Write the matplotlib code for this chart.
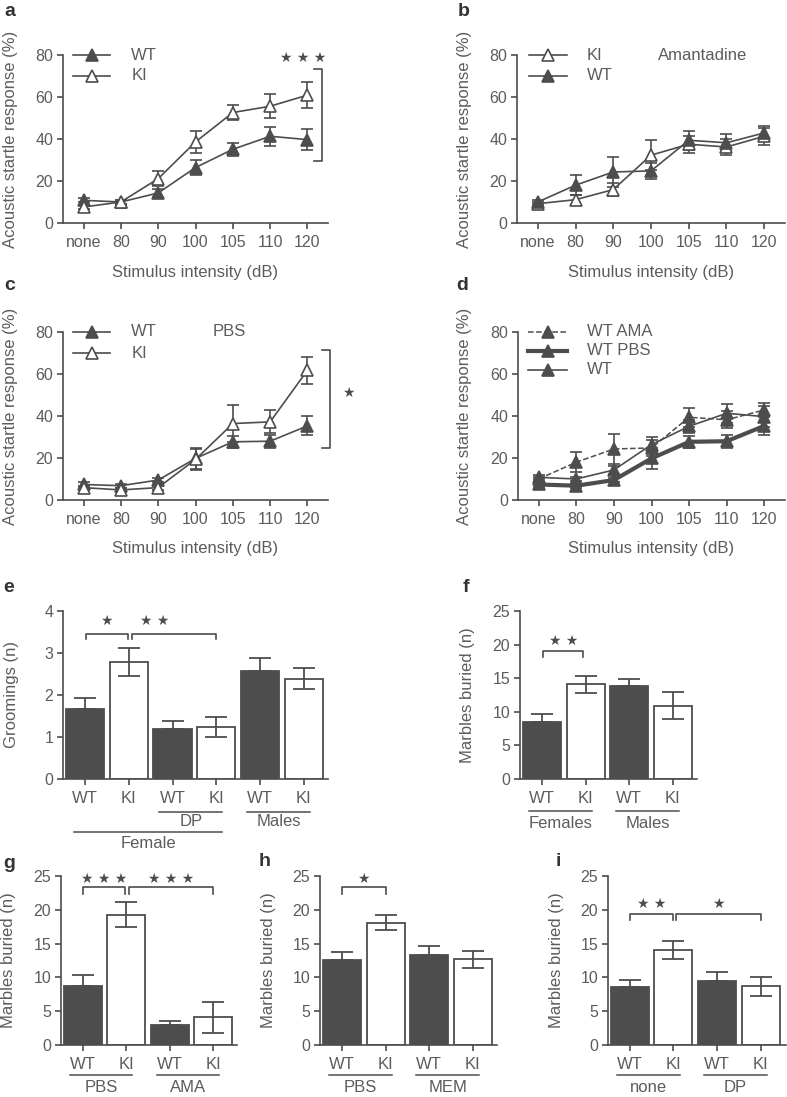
import numpy as np
import matplotlib

matplotlib.use("Agg")
import matplotlib.pyplot as plt

plt.rcParams["font.family"] = ["Liberation Sans", "DejaVu Sans"]

W, H = 787, 1097
INK = "#4d4d4d"
TXT = "#5c5c5c"

# ---- startle data (a-d) ----
intensity = ["none", "80", "90", "100", "105", "110", "120"]

a_wt = [10.8, 10.0, 14.3, 26.4, 35.1, 41.3, 39.7]
a_wt_err = [1.0, 1.0, 2.0, 3.5, 3.0, 4.5, 5.0]
a_ki = [7.6, 10.0, 21.1, 38.6, 52.6, 55.6, 60.9]
a_ki_err = [1.0, 1.0, 3.5, 5.3, 3.5, 5.6, 6.2]

b_ki = [9.2, 11.1, 15.9, 32.3, 37.5, 36.2, 41.3]
b_ki_err = [1.0, 2.4, 3.0, 7.0, 4.0, 4.0, 4.0]
b_wt = [10.0, 18.0, 24.3, 24.8, 39.4, 38.2, 42.9]
b_wt_err = [1.0, 4.7, 7.0, 4.0, 4.5, 4.0, 3.5]

c_wt = [7.4, 6.8, 9.5, 19.8, 27.7, 28.0, 35.3]
c_wt_err = [1.0, 1.0, 1.0, 5.0, 3.0, 3.0, 4.5]
c_ki = [5.9, 4.8, 5.9, 19.3, 36.4, 37.2, 61.8]
c_ki_err = [1.0, 1.0, 1.0, 5.0, 9.0, 5.5, 6.5]

# panel d re-plots the WT groups of a, b and c
d_series = ["WT AMA", "WT PBS", "WT"]

# ---- behaviour data (e-i) ----
genotype = ["WT", "KI", "WT", "KI", "WT", "KI"]

e_groom = [1.66, 2.79, 1.18, 1.24, 2.57, 2.39]
e_groom_err = [0.28, 0.34, 0.20, 0.23, 0.30, 0.25]

f_marbles = [8.5, 14.1, 13.8, 10.9]
f_marbles_err = [1.1, 1.27, 1.05, 1.98]

g_marbles = [8.7, 19.3, 2.9, 4.1]
g_marbles_err = [1.6, 1.8, 0.7, 2.3]

h_marbles = [12.55, 18.1, 13.3, 12.65]
h_marbles_err = [1.25, 1.15, 1.4, 1.3]

i_marbles = [8.6, 14.05, 9.47, 8.7]
i_marbles_err = [1.0, 1.35, 1.3, 1.4]


def add_axes_px(fig, left, top, right, bottom):
    return fig.add_axes([left / W, 1 - bottom / H, (right - left) / W, (bottom - top) / H])


def style(ax, labelsize=11.5):
    for s in ("top", "right"):
        ax.spines[s].set_visible(False)
    for s in ("left", "bottom"):
        ax.spines[s].set_color(INK)
        ax.spines[s].set_linewidth(1.2)
    ax.tick_params(direction="out", length=4.5, width=1.2, color=INK,
                   labelcolor=TXT, labelsize=labelsize, pad=2.5)
    ax.tick_params(axis="x", pad=4)


def set_ylabel_px(ax, text, off_px, width_px):
    ax.set_ylabel(text, fontsize=12, color=TXT)
    ax.yaxis.set_label_coords(-off_px / width_px, 0.5)
    ax.yaxis.label.set_va("center")


def panel_label(fig, x, y, s):
    fig.text(x / W, 1 - y / H, s, fontsize=14, fontweight="bold", color="#333333",
             ha="center", va="center")


def startle_line(ax, y, err, filled, lw=1.2, ls="-"):
    x = np.arange(len(y))
    ax.errorbar(x, y, yerr=err, fmt="^", ls=ls, lw=lw, color=INK, ms=8,
                mfc=INK if filled else "white", mec=INK, mew=1.2,
                elinewidth=1.2, capsize=4.5, capthick=1.2, clip_on=False, zorder=3)


def legend_row(ax, x0, x1, y, label, filled, lw=1.2, ls="-", tx=1.28):
    ax.plot([x0, (x0 + x1) / 2, x1], [y, y, y], ls=ls, lw=lw, color=INK,
            marker="^", markevery=[1], ms=8, mfc=INK if filled else "white",
            mec=INK, mew=1.2, clip_on=False)
    ax.text(tx, y, label, fontsize=12, color=TXT, va="center", ha="left")


def startle_axes(ax, width_px):
    style(ax)
    ax.set_xlim(-0.55, 6.55)
    ax.set_ylim(0, 80)
    ax.set_xticks(np.arange(len(intensity)), intensity)
    ax.set_yticks([0, 20, 40, 60, 80])
    ax.set_xlabel("Stimulus intensity (dB)", fontsize=12, color=TXT)
    ax.xaxis.set_label_coords(0.5, -49 / 168)
    ax.xaxis.label.set_va("center")
    set_ylabel_px(ax, "Acoustic startle response (%)", 53, width_px)


def stars(ax, x, y, n, size=10):
    ax.text(x, y, " ".join(["\u2605"] * n), fontsize=size, color=INK,
            ha="center", va="center", family="DejaVu Sans", clip_on=False)


def bracket(ax, x0, x1, y, drop):
    ax.plot([x0, x0, x1, x1], [y - drop, y, y, y - drop], color=INK, lw=1.2,
            clip_on=False)


def bar_axes(ax, vals, errs, ymax, yticks, ylabel, width_px, xmax=3.55):
    style(ax, labelsize=11.5)
    x = np.arange(len(vals))
    labels = genotype[:len(vals)]
    colors = [INK if g == "WT" else "white" for g in labels]
    ax.bar(x, vals, width=0.87, color=colors, edgecolor=INK, linewidth=1.3, zorder=2)
    lower = [0 if g == "WT" else e for g, e in zip(labels, errs)]
    ax.errorbar(x, vals, yerr=[lower, errs], fmt="none", ecolor=INK, elinewidth=1.3,
                capsize=8, capthick=1.3, zorder=3)
    ax.set_xlim(-0.5, xmax)
    ax.set_ylim(0, ymax)
    ax.set_yticks(yticks)
    ax.set_xticks(x, labels)
    ax.tick_params(axis="x", labelsize=12)
    set_ylabel_px(ax, ylabel, 52, width_px)


def group(ax, i0, i1, text, line_px, text_px, h_px):
    x0, x1 = i0 - 0.3, i1 + 0.14
    tr = ax.get_xaxis_transform()
    ax.plot([x0, x1], [-line_px / h_px] * 2, color=INK, lw=1.1, transform=tr, clip_on=False)
    ax.text((x0 + x1) / 2, -text_px / h_px, text, transform=tr, fontsize=12, color=TXT,
            ha="center", va="center")


def main():
    fig = plt.figure(figsize=(W / 100, H / 100), dpi=100)

    # a
    ax = add_axes_px(fig, 63, 55, 328, 223)
    startle_axes(ax, 265)
    startle_line(ax, a_wt, a_wt_err, True)
    startle_line(ax, a_ki, a_ki_err, False)
    legend_row(ax, -0.28, 0.71, 80, "WT", True)
    legend_row(ax, -0.28, 0.71, 70, "KI", False)
    ax.plot([6.18, 6.39, 6.39, 6.18], [73.2, 73.2, 29.4, 29.4], color=INK, lw=1.2, clip_on=False)
    stars(ax, 5.88, 78.4, 3)
    panel_label(fig, 10, 12, "a")

    # b
    ax = add_axes_px(fig, 517, 55, 785, 223)
    startle_axes(ax, 268)
    startle_line(ax, b_ki, b_ki_err, False)
    startle_line(ax, b_wt, b_wt_err, True)
    legend_row(ax, -0.23, 0.77, 80, "KI", False, tx=1.3)
    legend_row(ax, -0.23, 0.77, 70, "WT", True, tx=1.3)
    ax.text(3.18, 80, "Amantadine", fontsize=12, color=TXT, va="center", ha="left")
    panel_label(fig, 464, 12, "b")

    # c
    ax = add_axes_px(fig, 63, 332, 328, 500)
    startle_axes(ax, 265)
    startle_line(ax, c_wt, c_wt_err, True)
    startle_line(ax, c_ki, c_ki_err, False)
    legend_row(ax, -0.28, 0.71, 80, "WT", True)
    legend_row(ax, -0.28, 0.71, 70, "KI", False)
    ax.text(3.47, 80, "PBS", fontsize=12, color=TXT, va="center", ha="left")
    ax.plot([6.39, 6.60, 6.60, 6.39], [71.3, 71.3, 24.9, 24.9], color=INK, lw=1.2, clip_on=False)
    stars(ax, 7.09, 51.2, 1)
    panel_label(fig, 10, 285, "c")

    # d
    ax = add_axes_px(fig, 518, 332, 785, 500)
    startle_axes(ax, 267)
    startle_line(ax, b_wt, b_wt_err, True, lw=1.1, ls="--")
    startle_line(ax, c_wt, c_wt_err, True, lw=3.0)
    startle_line(ax, a_wt, a_wt_err, True, lw=1.2)
    legend_row(ax, -0.28, 0.75, 80, d_series[0], True, lw=1.1, ls="--")
    legend_row(ax, -0.28, 0.75, 71, d_series[1], True, lw=3.0)
    legend_row(ax, -0.28, 0.75, 62, d_series[2], True, lw=1.2)
    panel_label(fig, 462, 286, "d")

    # e
    ax = add_axes_px(fig, 63, 611, 328, 779)
    bar_axes(ax, e_groom, e_groom_err, 4, [0, 1, 2, 3, 4], "Groomings (n)", 265, xmax=5.55)
    bracket(ax, 0.02, 0.98, 3.46, 0.13)
    bracket(ax, 1.08, 3.0, 3.46, 0.13)
    stars(ax, 0.5, 3.76, 1)
    stars(ax, 1.6, 3.76, 2)
    group(ax, 2, 3, "DP", 33, 43, 168)
    group(ax, 4, 5, "Males", 33, 43, 168)
    group(ax, 0.05, 3.0, "Female", 53, 64, 168)
    panel_label(fig, 9, 587, "e")

    # f
    ax = add_axes_px(fig, 520, 611, 697, 779)
    bar_axes(ax, f_marbles, f_marbles_err, 25, [0, 5, 10, 15, 20, 25], "Marbles buried (n)", 177)
    bracket(ax, 0.03, 0.95, 19.06, 0.86)
    stars(ax, 0.5, 20.6, 2)
    group(ax, 0, 1, "Females", 32, 44, 168)
    group(ax, 2, 3, "Males", 32, 44, 168)
    panel_label(fig, 466, 587, "f")

    # g
    ax = add_axes_px(fig, 61, 876, 237, 1045)
    bar_axes(ax, g_marbles, g_marbles_err, 25, [0, 5, 10, 15, 20, 25], "Marbles buried (n)", 176)
    bracket(ax, 0.0, 0.98, 23.3, 0.9)
    bracket(ax, 1.07, 3.0, 23.3, 0.9)
    stars(ax, 0.5, 24.6, 3)
    stars(ax, 2.04, 24.6, 3)
    group(ax, 0, 1, "PBS", 30, 42, 169)
    group(ax, 2, 3, "AMA", 30, 42, 169)
    panel_label(fig, 9, 864, "g")

    # h
    ax = add_axes_px(fig, 320, 876, 497, 1045)
    bar_axes(ax, h_marbles, h_marbles_err, 25, [0, 5, 10, 15, 20, 25], "Marbles buried (n)", 177)
    bracket(ax, 0.0, 1.0, 23.3, 0.9)
    stars(ax, 0.5, 24.6, 1)
    group(ax, 0, 1, "PBS", 30, 42, 169)
    group(ax, 2, 3, "MEM", 30, 42, 169)
    panel_label(fig, 265, 862, "h")

    # i
    ax = add_axes_px(fig, 608, 876, 786, 1045)
    bar_axes(ax, i_marbles, i_marbles_err, 25, [0, 5, 10, 15, 20, 25], "Marbles buried (n)", 178, xmax=3.58)
    bracket(ax, 0.0, 0.98, 19.4, 0.9)
    bracket(ax, 1.07, 3.0, 19.4, 0.9)
    stars(ax, 0.5, 20.9, 2)
    stars(ax, 2.02, 20.9, 1)
    group(ax, 0, 1, "none", 30, 42, 169)
    group(ax, 2, 3, "DP", 30, 42, 169)
    panel_label(fig, 558, 861, "i")

    fig.savefig("out.png", dpi=100)
    plt.close(fig)


if __name__ == "__main__":
    main()
